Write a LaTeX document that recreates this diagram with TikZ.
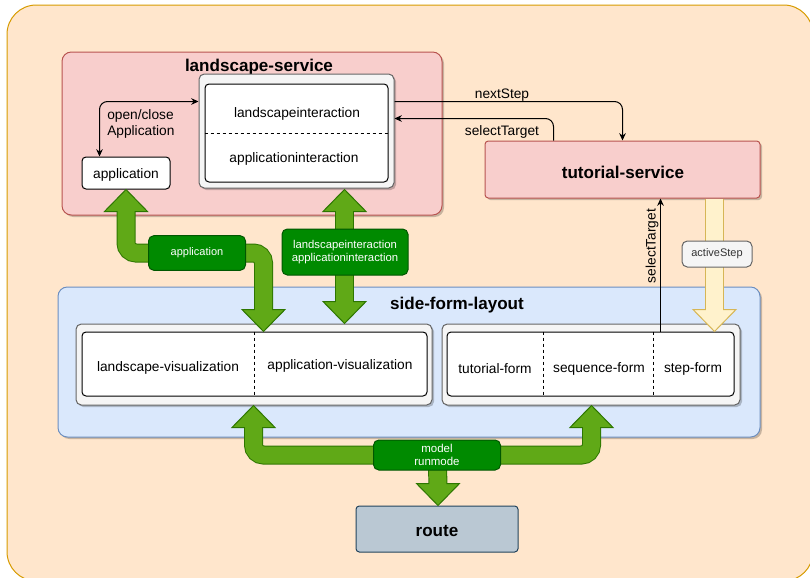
\documentclass[tikz,border=0pt]{standalone}
\usepackage{fontspec}
\setmainfont{Liberation Sans}
\usetikzlibrary{fit,shadows,calc,arrows.meta}
\definecolor{outerfill}{HTML}{FFE6CC}
\definecolor{outerdraw}{HTML}{D79B00}
\definecolor{redfill}{HTML}{F8CECC}
\definecolor{reddraw}{HTML}{B85450}
\definecolor{bluefill}{HTML}{DAE8FC}
\definecolor{bluedraw}{HTML}{6C8EBF}
\definecolor{greyfill}{HTML}{F5F5F5}
\definecolor{greydraw}{HTML}{666666}
\definecolor{gfill}{HTML}{60A917}
\definecolor{gdraw}{HTML}{2D7600}
\definecolor{glfill}{HTML}{008A00}
\definecolor{gldraw}{HTML}{005700}
\definecolor{yfill}{HTML}{FFF2CC}
\definecolor{ydraw}{HTML}{D6B656}
\definecolor{routefill}{HTML}{BAC8D3}
\definecolor{routedraw}{HTML}{23445D}
\definecolor{txtgrey}{HTML}{333333}
\tikzset{
  box/.style={inner sep=0pt, line width=0.75pt},
  myshadow/.style={drop shadow={shadow xshift=1.5pt, shadow yshift=-1.5pt, opacity=0.22, fill=black}},
  redbox/.style={box, draw=reddraw, fill=redfill, rounded corners=7pt, myshadow},
  tutbox/.style={box, draw=reddraw, fill=redfill, rounded corners=2.5pt, myshadow},
  bluebox/.style={box, draw=bluedraw, fill=bluefill, rounded corners=7pt, myshadow},
  greybox/.style={box, draw=greydraw, fill=greyfill, rounded corners=4pt, myshadow},
  whitebox/.style={box, draw=black, fill=white, rounded corners=3pt},
  routebox/.style={box, draw=routedraw, fill=routefill, rounded corners=2.5pt},
  title/.style={font=\bfseries\fontsize{12.8}{15}\selectfont},
  txt/.style={inner sep=0pt, yshift=-1.5pt},
  conn/.style={draw=black, line width=0.75pt, rounded corners=6pt},
  tp/.tip={Stealth[length=5.5pt, width=5pt]},
  gout/.style={draw=gdraw, line width=14.25pt},
  gin/.style={draw=gfill, line width=12.75pt},
  ghead/.style={fill=gfill, draw=gdraw, line width=0.75pt, line join=miter},
  yout/.style={draw=ydraw, line width=14.25pt},
  yin/.style={draw=yfill, line width=12.75pt},
  yhead/.style={fill=yfill, draw=ydraw, line width=0.75pt, line join=miter},
  glabel/.style={box, fill=glfill, draw=gldraw, rounded corners=4pt, text=white, font=\fontsize{8.25}{9.6}\selectfont, align=center},
  dashsep/.style={draw=black, line width=0.75pt, dash pattern=on 2.25pt off 2.25pt},
}
\begin{document}
\begin{tikzpicture}[x=0.75pt, y=-0.75pt, font=\fontsize{10.3}{12.4}\selectfont]
\useasboundingbox (0,0) rectangle (810,578);
\begin{scope}
  \clip (0,0) rectangle (810,578);
  \path[draw=outerdraw, fill=outerfill, line width=0.75pt, rounded corners=22pt] (7,5) rectangle (813,581);
\end{scope}

% landscape-service
\node[redbox, fit={(62,52)(442,215)}] (lsi) {};
\node[title, txt] (lsititle) at (259,65) {landscape-service};
\node[greybox, fit={(199,74)(394,188)}] (lsigrey) {};
\node[whitebox, fit={(205,84)(388,182)}] (lsiin) {};
\draw[dashsep] (lsiin.west |- 0,133) -- (lsiin.east |- 0,133);
\node[txt] (li) at (297,112) {landscapeinteraction};
\node[txt] (ai) at (294,157) {applicationinteraction};
\node[whitebox, fit={(82,157)(170,189)}] (app) {};
\node[txt] (apptxt) at (app.center) {application};

% tutorial-service
\node[tutbox, fit={(485,141)(760,198)}] (tut) {};
\node[title, txt] (tuttitle) at (623,170) {tutorial-service};

% side-form-layout
\node[bluebox, fit={(58,287)(760,437)}] (sfl) {};
\node[title, txt] (sfltitle) at (457,303) {side-form-layout};
\node[greybox, fit={(76,324)(432,405)}] (lgrey) {};
\node[whitebox, fit={(82,332)(427,396)}] (lin) {};
\draw[dashsep] (lin.north -| 254,0) -- (lin.south -| 254,0);
\node[txt] (lv) at (168,366) {landscape-visualization};
\node[txt] (av) at (340,364) {application-visualization};
\node[greybox, fit={(442,324)(740,405)}] (rgrey) {};
\node[whitebox, fit={(447,332)(734,396)}] (rin) {};
\draw[dashsep] (rin.north -| 543,0) -- (rin.south -| 543,0);
\draw[dashsep] (rin.north -| 653,0) -- (rin.south -| 653,0);
\node[txt] (tf) at (495,367) {tutorial-form};
\node[txt] (sqf) at (599,367) {sequence-form};
\node[txt] (stf) at (693,367) {step-form};

% route
\node[routebox, fit={(356,506)(518,552)}] (route) {};
\node[title, txt] (routetxt) at (route.center) {route};

% thin connectors
\draw[conn, tp-tp] ($(app.north west)+(18,0)$) |- ($(lsigrey.north west)+(0,28)$);
\node[txt, anchor=west, align=left] (oc) at (107,122) {open/close\\Application};
\draw[conn, -tp] ($(lsigrey.north east)+(0,28)$) -| ($(tut.north west)+(138,0)$);
\node[txt] (lnext) at (502,93) {nextStep};
\draw[conn, -tp] ($(tut.north west)+(69,0)$) |- ($(lsigrey.north east)+(0,45)$);
\node[txt] (lsel) at (502,130) {selectTarget};
\draw[conn, -tp] ($(rin.north west)+(214,0)$) -- ($(tut.south west)+(176,0)$);
\node[inner sep=0pt, rotate=90] (lsel2) at (652,246) {selectTarget};

% yellow activeStep arrow
\coordinate (tY1) at ($(tut.south west)+(230,0.5)$);
\coordinate (tY2) at (tY1 |- rin.north);
\draw[yout] (tY1) -- ($(tY2)+(0,-22)$);
\path[yhead] ($(tY2)+(-21.5,-22)$) -- (tY2) -- ($(tY2)+(21.5,-22)$) -- cycle;
\draw[yin] (tY1) -- ($(tY2)+(0,-20)$);
\node[box, draw=greydraw, fill=greyfill, rounded corners=4pt, text=txtgrey, font=\fontsize{8.25}{9.6}\selectfont, minimum width=52.5pt, minimum height=19.5pt] (lact) at (717,254) {activeStep};

% green arrows: coordinates
\coordinate (tA1) at (app.south);
\coordinate (tA2) at ($(lin.north west)+(182,0)$);
\coordinate (tB1) at ($(lsigrey.south west)+(146,1)$);
\coordinate (tB2) at ($(lgrey.north west)+(269,0)$);
\coordinate (tC1) at ($(lgrey.south west)+(178,0)$);
\coordinate (tC2) at ($(rgrey.south west)+(150,0)$);
\coordinate (tC3) at ($(route.north)+(1,0)$);
\coordinate (cA) at (197,253);
\coordinate (cB) at (345,252);
\coordinate (cC) at (437,455);

% outer strokes
\draw[gout, rounded corners=7.5pt] ($(tA1)+(0,22)$) |- (cA) -| ($(tA2)+(0,-22)$);
\draw[gout] ($(tB1)+(0,22)$) -- ($(tB2)+(0,-22)$);
\draw[gout, rounded corners=7.5pt] ($(tC1)+(0,22)$) |- (cC) -| ($(tC2)+(0,22)$);
\draw[gout] (cC) -- ($(tC3)+(0,-22)$);
% heads
\path[ghead] ($(tA1)+(-21.5,22)$) -- (tA1) -- ($(tA1)+(21.5,22)$) -- cycle;
\path[ghead] ($(tA2)+(-21.5,-22)$) -- (tA2) -- ($(tA2)+(21.5,-22)$) -- cycle;
\path[ghead] ($(tB1)+(-21.5,22)$) -- (tB1) -- ($(tB1)+(21.5,22)$) -- cycle;
\path[ghead] ($(tB2)+(-21.5,-22)$) -- (tB2) -- ($(tB2)+(21.5,-22)$) -- cycle;
\path[ghead] ($(tC1)+(-21.5,22)$) -- (tC1) -- ($(tC1)+(21.5,22)$) -- cycle;
\path[ghead] ($(tC2)+(-21.5,22)$) -- (tC2) -- ($(tC2)+(21.5,22)$) -- cycle;
\path[ghead] ($(tC3)+(-21.5,-22)$) -- (tC3) -- ($(tC3)+(21.5,-22)$) -- cycle;
% inner strokes
\draw[gin, rounded corners=7.5pt] ($(tA1)+(0,20)$) |- (cA) -| ($(tA2)+(0,-20)$);
\draw[gin] ($(tB1)+(0,20)$) -- ($(tB2)+(0,-20)$);
\draw[gin, rounded corners=7.5pt] ($(tC1)+(0,20)$) |- (cC) -| ($(tC2)+(0,20)$);
\draw[gin] (cC) -- ($(tC3)+(0,-20)$);
% labels
\node[glabel, minimum width=72.75pt, minimum height=26pt] (lblA) at (cA) {application};
\node[glabel, minimum width=94.5pt, minimum height=34.5pt, font=\fontsize{8.5}{10}\selectfont] (lblB) at (cB) {landscapeinteraction\\applicationinteraction};
\node[glabel, minimum width=95.25pt, minimum height=22.5pt, font=\fontsize{8.6}{9.6}\selectfont] (lblC) at (cC) {model\\runmode};
\end{tikzpicture}
\end{document}
